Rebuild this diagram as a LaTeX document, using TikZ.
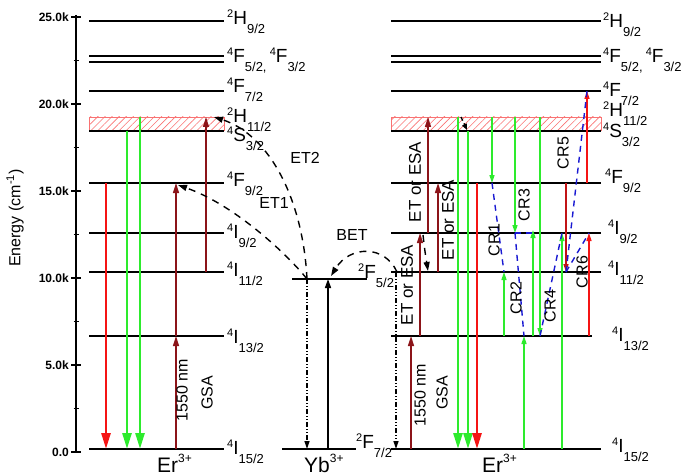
\documentclass[tikz,border=0pt]{standalone}
\usepackage{fontspec}
\setmainfont{Liberation Sans}
\usetikzlibrary{arrows.meta, patterns.meta}

\definecolor{maroon}{RGB}{140,20,25}
\definecolor{lgreen}{RGB}{45,235,45}
\definecolor{lred}{RGB}{245,20,20}
\definecolor{crblue}{RGB}{25,25,210}

% term symbol  ^{2S+1}L_{J}
\newcommand{\term}[3]{\raisebox{7pt}{\fontsize{11}{11}\selectfont #1}#2\raisebox{-9pt}{\fontsize{13}{13}\selectfont #3}}
\newcommand{\ionlab}[2]{#1\raisebox{10pt}{\fontsize{12}{12}\selectfont #2}}

\begin{document}
\begin{tikzpicture}[
	x=1pt, y=-1pt,
	lvl/.style={line width=1.6pt},
	lbl/.style={font=\fontsize{19}{19}\selectfont, anchor=base west, inner sep=0pt},
	txt/.style={font=\fontsize{16}{16}\selectfont, inner sep=0pt},
	rot/.style={txt, rotate=90},
	ticklbl/.style={font=\bfseries\fontsize{12}{12}\selectfont, anchor=east, inner sep=0pt},
	ionname/.style={font=\fontsize{21}{21}\selectfont, anchor=base west, inner sep=0pt},
	hatch/.style={draw=lred!60, line width=0.6pt, pattern={Lines[angle=45, distance=5pt, line width=0.6pt]}, pattern color=lred!60},
	emit/.style={line width=2.6pt, -{Triangle[length=16pt, width=9pt]}},
	pump/.style={line width=1.5pt, maroon, -{Triangle[length=10pt, width=6pt]}},
	crarr/.style={line width=1.5pt, -{Triangle[length=8pt, width=5pt]}},
	etarr/.style={line width=1.4pt, dash pattern=on 7pt off 6pt, -{Triangle[length=9pt, width=6pt]}},
	crline/.style={line width=1.4pt, crblue, dash pattern=on 6pt off 5pt},
	ybarr/.style={line width=1.2pt, dash pattern=on 5pt off 2pt on 1pt off 2pt on 1pt off 2pt, -{Triangle[length=8pt, width=5pt]}}
	]
	\useasboundingbox (0,0) rectangle (685,476);
	
	% Axis
	\draw[line width=1.4pt] (76,15) -- (76,453);
	\foreach \e/\t in {0/0.0, 5/5.0k, 10/10.0k, 15/15.0k, 20/20.0k, 25/25.0k}{
		\draw[line width=1.4pt] (71,{452-17.4*\e}) -- (81,{452-17.4*\e});
		\node[ticklbl] (tick\e) at (69,{452-17.4*\e}) {\t};
	}
	\foreach \e in {2.5,7.5,...,22.5}
		\draw[line width=1.2pt] (73.5,{452-17.4*\e}) -- (78.5,{452-17.4*\e});
	\node[rot, font=\fontsize{16}{16}\selectfont] (elab) at (15,218) {Energy (cm\textsuperscript{-1})};
	
	% Er3+ (left)
	\foreach \y in {21,56,62,91,183,233,272,336,449}
		\draw[lvl] (89,\y) -- (224,\y);
	\draw[hatch] (89,117) rectangle (224,130);
	\draw[line width=2.6pt] (89,131) -- (224,131);
	\node[lbl] (a2H92) at (227,25) {\term{2}{H}{9/2}};
	\node[lbl] (a4F52) at (227,63) {\term{4}{F}{5/2,}\,\term{4}{F}{3/2}};
	\node[lbl] (a4F72) at (227,93) {\term{4}{F}{7/2}};
	\node[lbl] (a2H112) at (227,123) {\term{2}{H}{11/2}};
	\node[lbl] (a4S32) at (227,142) {\term{4}{S}{3/2}};
	\node[lbl] (a4F92) at (227,186) {\term{4}{F}{9/2}};
	\node[lbl] (a4I92) at (227,238) {\term{4}{I}{9/2}};
	\node[lbl] (a4I112) at (227,276) {\term{4}{I}{11/2}};
	\node[lbl] (a4I132) at (227,343) {\term{4}{I}{13/2}};
	\node[lbl] (a4I152) at (227,454) {\term{4}{I}{15/2}};
	\draw[emit, lred] (106,183) -- (106,449);
	\draw[emit, lgreen] (127,131) -- (127,449);
	\draw[emit, lgreen] (140,117) -- (140,449);
	\draw[pump] (176,449) -- (176,336);
	\draw[pump] (176,336) -- (176,183);
	\draw[pump] (206,272) -- (206,117);
	\node[rot] (gsa1a) at (182,390) {1550 nm};
	\node[rot] (gsa1b) at (207,393) {GSA};
	\node[ionname] (er1) at (157,472) {\ionlab{Er}{3+}};
	
	% Yb3+
	\draw[lvl] (292,279) -- (367,279);
	\draw[lvl] (282,449) -- (356,449);
	\node[lbl] (yb52) at (358,278) {\term{2}{F}{5/2}};
	\node[lbl] (yb72) at (356,448) {\term{2}{F}{7/2}};
	\draw[ybarr] (307,279) -- (307,449);
	\draw[line width=1.5pt, -{Triangle[length=9pt, width=6pt]}] (328,449) -- (328,279);
	\node[ionname] (yb) at (304,472) {\ionlab{Yb}{3+}};
	
	% Energy transfer
	\draw[etarr] (307,279) .. controls (288,255) and (235,205) .. (178,185);
	\draw[etarr] (307,279) .. controls (303,200) and (270,135) .. (214,117);
	\draw[etarr] (397,272) .. controls (385,245) and (350,245) .. (331,276);
	\node[txt] (et1) at (274,203) {ET1};
	\node[txt] (et2) at (305,158) {ET2};
	\node[txt] (bet) at (352,235) {BET};
	
	% Er3+ (right)
	\foreach \y in {21,56,62,91,183,233,272,449}
		\draw[lvl] (391,\y) -- (601,\y);
	\draw[lvl] (391,336) -- (592,336);
	\draw[hatch] (391,117) rectangle (601,130);
	\draw[line width=2.6pt] (391,131) -- (601,131);
	\node[lbl] (b2H92) at (603,28) {\term{2}{H}{9/2}};
	\node[lbl] (b4F52) at (603,63) {\term{4}{F}{5/2,}\,\term{4}{F}{3/2}};
	\node[lbl] (b4F72) at (603,97) {\term{4}{F}{7/2}};
	\node[lbl] (b2H112) at (603,117) {\term{2}{H}{11/2}};
	\node[lbl] (b4S32) at (603,138) {\term{4}{S}{3/2}};
	\node[lbl] (b4F92) at (605,183) {\term{4}{F}{9/2}};
	\node[lbl] (b4I92) at (608,234) {\term{4}{I}{9/2}};
	\node[lbl] (b4I112) at (608,275) {\term{4}{I}{11/2}};
	\node[lbl] (b4I132) at (612,341) {\term{4}{I}{13/2}};
	\node[lbl] (b4I152) at (612,452) {\term{4}{I}{15/2}};
	\draw[ybarr] (396,272) -- (396,449);
	\draw[pump] (411,449) -- (411,336);
	\draw[pump] (420,336) -- (420,233);
	\draw[pump] (428,233) -- (428,117);
	\draw[pump] (438,272) -- (438,183);
	\draw[etarr] (423,235) .. controls (425,252) .. (428,271);
	\draw[etarr, dash pattern=on 4pt off 3pt, -{Triangle[length=6pt, width=5pt]}] (461,117) -- (467,130);
	\draw[emit, lgreen] (458,117) -- (458,449);
	\draw[emit, lgreen] (468,131) -- (468,449);
	\draw[emit, lred] (477,183) -- (477,449);
	\node[rot, font=\fontsize{17}{17}\selectfont] (esa1) at (415,182) {ET or ESA};
	\node[rot, font=\fontsize{17}{17}\selectfont] (esa2) at (448,220) {ET or ESA};
	\node[rot, font=\fontsize{17}{17}\selectfont] (esa3) at (407,285) {ET or ESA};
	\node[rot] (gsa2a) at (420,395) {1550 nm};
	\node[rot] (gsa2b) at (442,393) {GSA};
	\node[ionname] (er2) at (482,472) {\ionlab{Er}{3+}};
	
	% Cross relaxation
	\draw[crarr, lgreen] (492,117) -- (492,183);
	\draw[crarr, lgreen] (504,336) -- (504,272);
	\draw[crarr, lgreen] (515,117) -- (515,233);
	\draw[crarr, lgreen] (524,449) -- (524,336);
	\draw[crarr, lgreen] (533,336) -- (533,230);
	\draw[crarr, lgreen] (540,117) -- (540,336);
	\draw[crarr, lgreen] (562,449) -- (562,233);
	\draw[crarr, maroon!50!lred] (566,183) -- (566,272);
	\draw[crarr, lred] (587,183) -- (587,91);
	\draw[crarr, lred] (589,336) -- (589,233);
	\draw[crline] (492,183) -- (504,272);
	\draw[crline] (515,233) -- (524,336);
	\draw[crline] (515,233) -- (533,233);
	\draw[crline] (540,336) -- (562,233);
	\draw[crline] (566,272) -- (587,91);
	\draw[crline] (566,272) -- (589,233);
	\node[rot] (cr1) at (494,240) {CR1};
	\node[rot] (cr2) at (516,298) {CR2};
	\node[rot] (cr3) at (524,205) {CR3};
	\node[rot] (cr4) at (550,306) {CR4};
	\node[rot] (cr5) at (563,153) {CR5};
	\node[rot] (cr6) at (582,272) {CR6};
	
\end{tikzpicture}
\end{document}
